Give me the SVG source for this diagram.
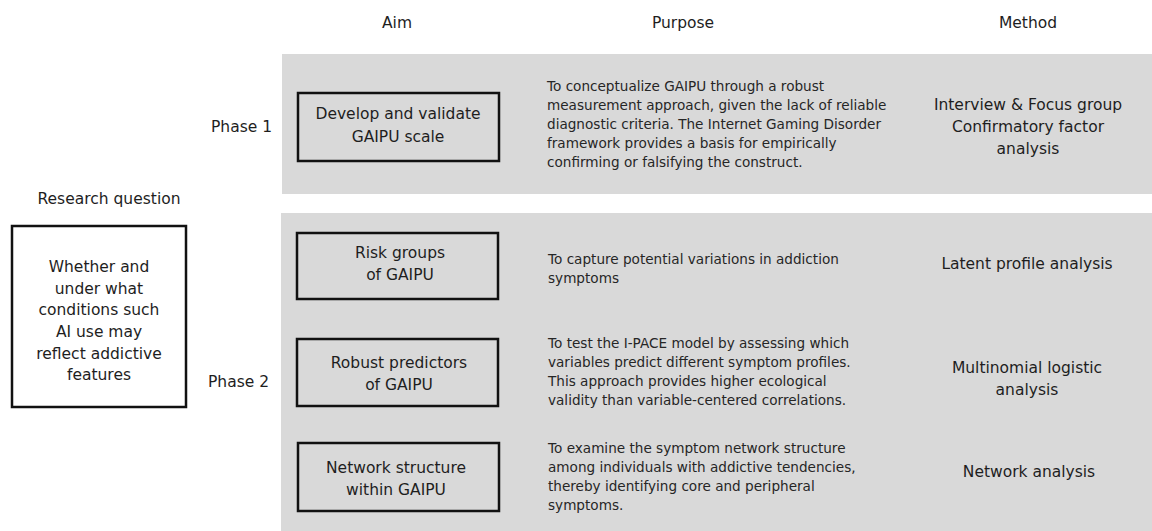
<svg xmlns="http://www.w3.org/2000/svg" width="1152" height="531" viewBox="0 0 1152 531">
<style>
text{font-family:"DejaVu Sans","Liberation Sans",sans-serif;fill:#1e1e1e}
.h{font-size:15.5px;text-anchor:middle}
.lbl{font-size:15.5px}
.bx{font-size:15.5px;text-anchor:middle}
.p{font-size:13.6px;fill:#262626}
.m{font-size:15.5px;text-anchor:middle}
.panel{fill:#d9d9d9}
.node{fill:none;stroke:#111;stroke-width:2.5}
.rq{fill:#fff;stroke:#111;stroke-width:2.5}
</style>
<rect x="0" y="0" width="1152" height="531" fill="#fff"/>

<g id="headers">
<text class="h" x="397" y="28">Aim</text>
<text class="h" x="683" y="28">Purpose</text>
<text class="h" x="1028" y="28">Method</text>
<text class="h" x="109" y="204">Research question</text>
</g>

<g id="panels">
<rect class="panel" x="282" y="54" width="870" height="140"/>
<rect class="panel" x="281" y="213" width="871" height="318"/>
</g>

<g id="phase-labels">
<text class="lbl" x="211" y="132">Phase 1</text>
<text class="lbl" x="208" y="387">Phase 2</text>
</g>

<g id="research-question">
<rect class="rq" x="12" y="226" width="174" height="181"/>
<text class="bx" x="99"><tspan x="99" y="272">Whether and</tspan><tspan x="99" y="294">under what</tspan><tspan x="99" y="315">conditions such</tspan><tspan x="99" y="337">AI use may</tspan><tspan x="99" y="359">reflect addictive</tspan><tspan x="99" y="380">features</tspan></text>
</g>

<g id="phase1">
<rect class="node" x="298" y="93" width="201" height="68"/>
<text class="bx"><tspan x="398" y="119">Develop and validate</tspan><tspan x="398" y="142">GAIPU scale</tspan></text>
<text class="p"><tspan x="547" y="91">To conceptualize GAIPU through a robust</tspan><tspan x="547" y="110">measurement approach, given the lack of reliable</tspan><tspan x="547" y="129">diagnostic criteria. The Internet Gaming Disorder</tspan><tspan x="547" y="148">framework provides a basis for empirically</tspan><tspan x="547" y="167">confirming or falsifying the construct.</tspan></text>
<text class="m"><tspan x="1028" y="110">Interview &amp; Focus group</tspan><tspan x="1028" y="132">Confirmatory factor</tspan><tspan x="1028" y="154">analysis</tspan></text>
</g>

<g id="risk-groups">
<rect class="node" x="297" y="233" width="201" height="66"/>
<text class="bx"><tspan x="400" y="258">Risk groups</tspan><tspan x="400" y="280">of GAIPU</tspan></text>
<text class="p"><tspan x="548" y="264">To capture potential variations in addiction</tspan><tspan x="548" y="283">symptoms</tspan></text>
<text class="m" x="1027" y="269">Latent profile analysis</text>
</g>

<g id="predictors">
<rect class="node" x="297" y="339" width="201" height="67"/>
<text class="bx"><tspan x="399" y="368">Robust predictors</tspan><tspan x="399" y="390">of GAIPU</tspan></text>
<text class="p"><tspan x="548" y="348">To test the I-PACE model by assessing which</tspan><tspan x="548" y="367">variables predict different symptom profiles.</tspan><tspan x="548" y="386">This approach provides higher ecological</tspan><tspan x="548" y="405">validity than variable-centered correlations.</tspan></text>
<text class="m"><tspan x="1027" y="373">Multinomial logistic</tspan><tspan x="1027" y="395">analysis</tspan></text>
</g>

<g id="network">
<rect class="node" x="298" y="443" width="201" height="68"/>
<text class="bx"><tspan x="396" y="473">Network structure</tspan><tspan x="396" y="495">within GAIPU</tspan></text>
<text class="p"><tspan x="548" y="453">To examine the symptom network structure</tspan><tspan x="548" y="472">among individuals with addictive tendencies,</tspan><tspan x="548" y="491">thereby identifying core and peripheral</tspan><tspan x="548" y="510">symptoms.</tspan></text>
<text class="m" x="1029" y="477">Network analysis</text>
</g>

<g id="connectors"></g>
</svg>
